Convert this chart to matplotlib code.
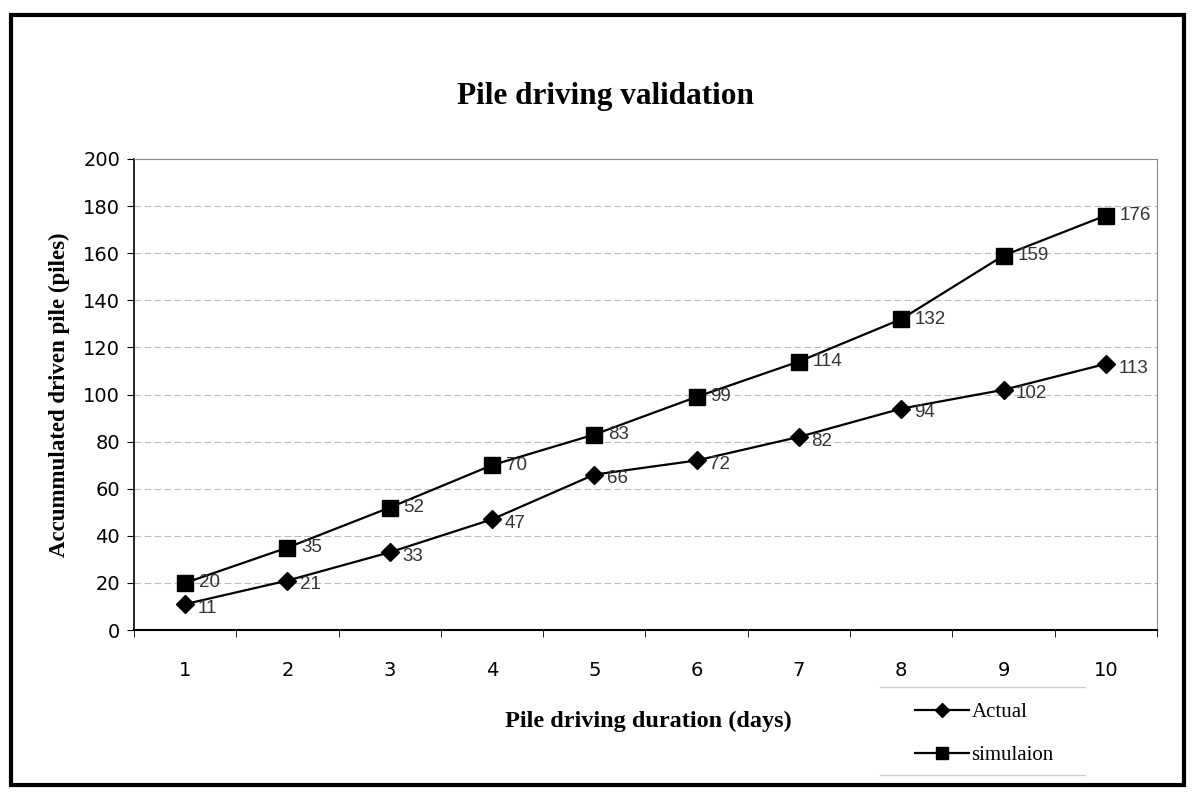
import numpy as np
import matplotlib.pyplot as plt
from matplotlib.lines import Line2D

days = [1, 2, 3, 4, 5, 6, 7, 8, 9, 10]
actual = [11, 21, 33, 47, 66, 72, 82, 94, 102, 113]
simulation = [20, 35, 52, 70, 83, 99, 114, 132, 159, 176]
y_ticks = [0, 20, 40, 60, 80, 100, 120, 140, 160, 180, 200]

serif = ['Liberation Serif', 'DejaVu Serif']
sans = ['DejaVu Sans']

fig = plt.figure(figsize=(11.92, 7.95), dpi=100)
ax = fig.add_axes([0.1124, 0.2075, 0.8582, 0.5925])

ax.plot(days, actual, color='black', lw=1.6, marker='D', markersize=9, label='Actual')
ax.plot(days, simulation, color='black', lw=1.6, marker='s', markersize=11, label='simulaion')

# data labels
for x, y in zip(days, actual):
    ax.annotate(str(y), (x, y), xytext=(9, -3), textcoords='offset points',
                fontsize=13.5, color='#333333', family=['Liberation Sans'], va='center')
for x, y in zip(days, simulation):
    ax.annotate(str(y), (x, y), xytext=(10, 0), textcoords='offset points',
                fontsize=13.5, color='#333333', family=['Liberation Sans'], va='center')

ax.set_xlim(0.5, 10.5)
ax.set_ylim(0, 200)
ax.set_yticks(y_ticks)
ax.set_xticks(days)
ax.set_xticks(np.arange(0.5, 11, 1), minor=True)
ax.tick_params(axis='x', which='major', length=0, pad=22, labelsize=14)
ax.tick_params(axis='x', which='minor', length=5, direction='out')
ax.tick_params(axis='y', length=5, direction='out', labelsize=14, pad=5)
for lab in ax.get_xticklabels() + ax.get_yticklabels():
    lab.set_family(sans)

ax.grid(axis='y', color='#bbbbbb', linestyle=(0, (6, 3)), lw=0.8)
ax.set_axisbelow(True)
ax.spines['top'].set_color('#888888')
ax.spines['right'].set_color('#888888')
ax.spines['left'].set_linewidth(1.2)
ax.spines['bottom'].set_linewidth(1.5)

fig.text(0.508, 0.879, 'Pile driving validation', ha='center', va='center',
         fontsize=22.5, fontweight='bold', family=serif)
fig.text(0.05, 0.504, 'Accummulated driven pile (piles)', rotation=90, ha='center',
         va='center', fontsize=16.5, fontweight='bold', family=serif)
fig.text(0.544, 0.092, 'Pile driving duration (days)', ha='center', va='center',
         fontsize=17.5, fontweight='bold', family=serif)

leg = fig.legend(loc='center left', bbox_to_anchor=(0.752, 0.077), frameon=False,
                 prop={'family': serif, 'size': 15}, handlelength=2.6,
                 handletextpad=0.1, labelspacing=1.1, markerscale=0.8)

# faint lines above and below legend
fig.add_artist(Line2D([0.738, 0.91], [0.136, 0.136], color='#cccccc', lw=1, transform=fig.transFigure))
fig.add_artist(Line2D([0.738, 0.91], [0.025, 0.025], color='#cccccc', lw=1, transform=fig.transFigure))

# outer frame
fig.add_artist(plt.Rectangle((0.009, 0.013), 0.984, 0.968, fill=False, ec='black', lw=3,
                             transform=fig.transFigure))

fig.savefig('out.png', dpi=100)
